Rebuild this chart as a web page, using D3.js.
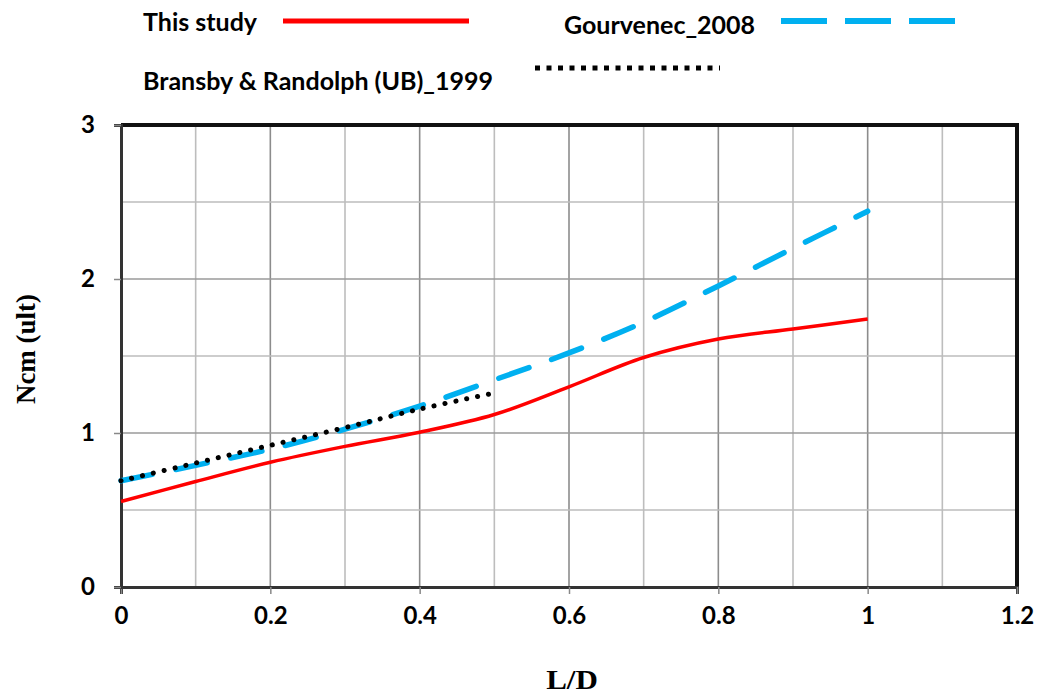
<!DOCTYPE html>
<html>
<head>
<meta charset="utf-8">
<script src="https://cdnjs.cloudflare.com/ajax/libs/d3/7.8.5/d3.min.js"></script>
<style>
  body { margin: 0; background: #fff; }
  text { font-family: Lato, "Open Sans", sans-serif; font-weight: bold; }
  .serif { font-family: "Liberation Serif", "DejaVu Serif", serif; }
</style>
</head>
<body>
<svg width="1042" height="696"></svg>
<script>
// values
var ldValues = [0, 0.1, 0.2, 0.3, 0.4, 0.5, 0.6, 0.7, 0.8, 0.9, 1.0];
var thisStudy = [0.555, 0.685, 0.81, 0.913, 1.005, 1.12, 1.30, 1.49, 1.61, 1.675, 1.74];
var gourvenec = [0.69, 0.79, 0.895, 1.025, 1.175, 1.345, 1.52, 1.72, 1.955, 2.2, 2.44];
var bransbyLD = [0, 0.1, 0.2, 0.3, 0.4, 0.5];
var bransby = [0.69, 0.805, 0.92, 1.035, 1.155, 1.26];
var xTicks = [0, 0.2, 0.4, 0.6, 0.8, 1, 1.2];
var yTicks = [0, 1, 2, 3];

var svg = d3.select("svg");

var x = d3.scaleLinear().domain([0, 1.2]).range([121, 1017]),
    y = d3.scaleLinear().domain([0, 3]).range([587, 125]);

// grid
var grid = svg.append("g").attr("class", "grid");
grid.selectAll("line.v")
    .data(d3.range(1, 12).map(function(i) { return i / 10; }))
  .enter().append("line")
    .attr("x1", function(d) { return x(d); })
    .attr("x2", function(d) { return x(d); })
    .attr("y1", y(0)).attr("y2", y(3))
    .attr("stroke", function(d, i) { return (i % 2) ? "#8c8c8c" : "#bdbdbd"; })
    .attr("stroke-width", 1.6);
grid.selectAll("line.h")
    .data([0.5, 1, 1.5, 2, 2.5])
  .enter().append("line")
    .attr("y1", function(d) { return y(d); })
    .attr("y2", function(d) { return y(d); })
    .attr("x1", x(0)).attr("x2", x(1.2))
    .attr("stroke", function(d) { return d % 1 === 0 ? "#9a9a9a" : "#bdbdbd"; })
    .attr("stroke-width", 1.6);

// frame: top and right borders
svg.append("path")
    .attr("d", "M" + x(0) + "," + y(3) + "H" + x(1.2) + "V" + y(0))
    .attr("fill", "none")
    .attr("stroke", "#111")
    .attr("stroke-width", 4);

// axes
var xAxis = d3.axisBottom(x).tickValues(xTicks).tickSize(7).tickPadding(13)
    .tickFormat(function(d) { return d3.format("")(d); });
var gx = svg.append("g").attr("transform", "translate(0," + y(0) + ")").call(xAxis);
gx.select(".domain").attr("stroke", "#333").attr("stroke-width", 3);
gx.selectAll(".tick line").attr("stroke", "#888").attr("stroke-width", 1.5);
gx.selectAll(".tick text").attr("font-size", 24).attr("fill", "#000")
    .style("font-family", "Lato, 'Open Sans', sans-serif").style("font-weight", "bold");

var yAxis = d3.axisLeft(y).tickValues(yTicks).tickSize(7).tickPadding(19)
    .tickFormat(d3.format("d"));
var gy = svg.append("g").attr("transform", "translate(" + x(0) + ",0)").call(yAxis);
gy.select(".domain").attr("stroke", "#333").attr("stroke-width", 3);
gy.selectAll(".tick line").attr("stroke", "#888").attr("stroke-width", 1.5);
gy.selectAll(".tick text").attr("font-size", 24).attr("fill", "#000")
    .style("font-family", "Lato, 'Open Sans', sans-serif").style("font-weight", "bold");

// series
var line = d3.line()
    .x(function(d) { return x(d[0]); })
    .y(function(d) { return y(d[1]); })
    .curve(d3.curveCatmullRom);

svg.append("path")
    .datum(d3.zip(ldValues, gourvenec))
    .attr("d", line)
    .attr("fill", "none")
    .attr("stroke", "#00b0f0")
    .attr("stroke-width", 5.5)
    .attr("stroke-linecap", "round")
    .attr("stroke-dasharray", "32,24");

svg.append("path")
    .datum(d3.zip(bransbyLD, bransby))
    .attr("d", line)
    .attr("fill", "none")
    .attr("stroke", "#000")
    .attr("stroke-width", 5)
    .attr("stroke-linecap", "round")
    .attr("stroke-dasharray", "0.1,11");

svg.append("path")
    .datum(d3.zip(ldValues, thisStudy))
    .attr("d", line)
    .attr("fill", "none")
    .attr("stroke", "#ff0000")
    .attr("stroke-width", 3.5);

// legend
var legend = svg.append("g").attr("font-size", 25);
legend.append("text").attr("x", 143).attr("y", 31).text("This study");
legend.append("line").attr("x1", 283).attr("x2", 469).attr("y1", 21).attr("y2", 21)
    .attr("stroke", "#ff0000").attr("stroke-width", 5);

legend.append("text").attr("x", 564).attr("y", 34).text("Gourvenec_2008");
legend.append("line").attr("x1", 781).attr("x2", 955).attr("y1", 21).attr("y2", 21)
    .attr("stroke", "#00b0f0").attr("stroke-width", 6).attr("stroke-dasharray", "46,18");

legend.append("text").attr("x", 143).attr("y", 90).text("Bransby & Randolph (UB)_1999");
legend.append("line").attr("x1", 535).attr("x2", 720).attr("y1", 68).attr("y2", 68)
    .attr("stroke", "#000").attr("stroke-width", 5).attr("stroke-dasharray", "5,6.5");

// axis titles
svg.append("text").attr("class", "serif")
    .attr("transform", "translate(572,689) scale(1.15,1)")
    .attr("text-anchor", "middle")
    .attr("font-size", 27)
    .text("L/D");

svg.append("text").attr("class", "serif")
    .attr("transform", "translate(35,349) rotate(-90)")
    .attr("text-anchor", "middle")
    .attr("font-size", 27)
    .text("Ncm (ult)");
</script>
</body>
</html>
